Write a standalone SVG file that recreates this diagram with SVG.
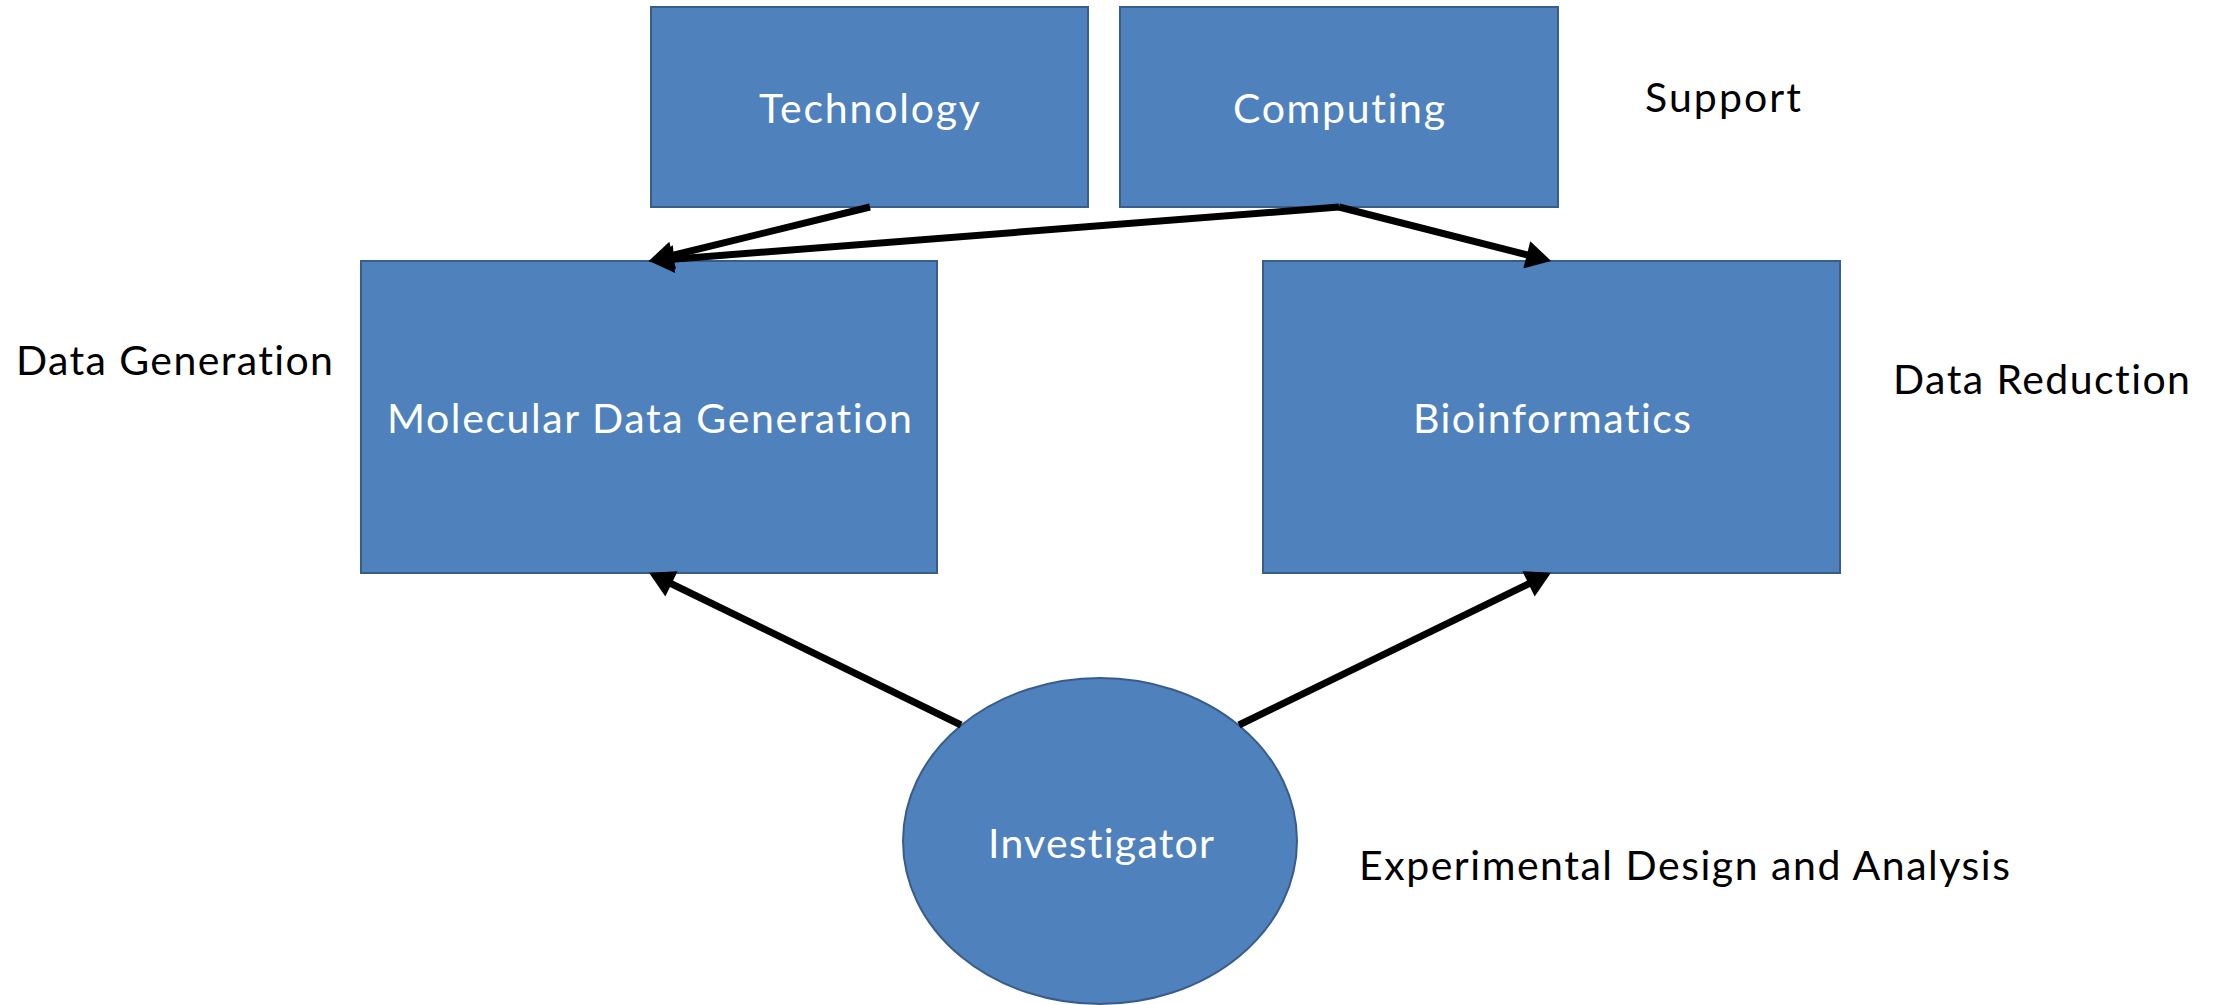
<svg xmlns="http://www.w3.org/2000/svg" width="2223" height="1005" viewBox="0 0 2223 1005">
  <style>
    .box { fill: #4F81BD; stroke: #385D8A; stroke-width: 2; }
    .lbl { font-family: Lato, "Open Sans", "Liberation Sans", sans-serif; font-size: 41px; font-variant-ligatures: none; }
    .in { fill: #FFFFFF; }
    .out { fill: #000000; }
    .wire { stroke: #000000; stroke-width: 7; fill: none; marker-end: url(#arrow); }
  </style>
  <defs>
    <marker id="arrow" markerUnits="userSpaceOnUse" markerWidth="28" markerHeight="28" refX="11" refY="14" orient="auto" overflow="visible">
      <path d="M0,0 L25,14 L0,28 Z" fill="#000000"/>
    </marker>
  </defs>
  <rect width="2223" height="1005" fill="#FFFFFF"/>

  <g id="technology">
    <rect class="box" x="651" y="7" width="437" height="200"/>
    <text class="lbl in" x="759" y="123" textLength="221">Technology</text>
  </g>
  <g id="computing">
    <rect class="box" x="1120" y="7" width="438" height="200"/>
    <text class="lbl in" x="1233" y="123" textLength="212">Computing</text>
  </g>
  <g id="molecular">
    <rect class="box" x="361" y="261" width="576" height="312"/>
    <text class="lbl in" x="387" y="433" textLength="525">Molecular Data Generation</text>
  </g>
  <g id="bioinformatics">
    <rect class="box" x="1263" y="261" width="577" height="312"/>
    <text class="lbl in" x="1413" y="433" textLength="278">Bioinformatics</text>
  </g>
  <g id="investigator">
    <ellipse class="box" cx="1100" cy="841" rx="197" ry="163"/>
    <text class="lbl in" x="988" y="858" textLength="226">Investigator</text>
  </g>

  <g id="labels">
    <text class="lbl out" x="1645" y="112" textLength="156">Support</text>
    <text class="lbl out" x="16" y="375" textLength="317">Data Generation</text>
    <text class="lbl out" x="1893" y="394" textLength="297">Data Reduction</text>
    <text class="lbl out" x="1359" y="880" textLength="651">Experimental Design and Analysis</text>
  </g>

  <g id="connectors">
    <line class="wire" x1="870" y1="207" x2="662" y2="258"/>
    <line class="wire" x1="1339" y1="207" x2="663" y2="260"/>
    <line class="wire" x1="1339" y1="207" x2="1537.5" y2="257.5"/>
    <line class="wire" x1="961" y1="725" x2="661.6" y2="579"/>
    <line class="wire" x1="1239" y1="725" x2="1538.4" y2="579"/>
  </g>
</svg>
